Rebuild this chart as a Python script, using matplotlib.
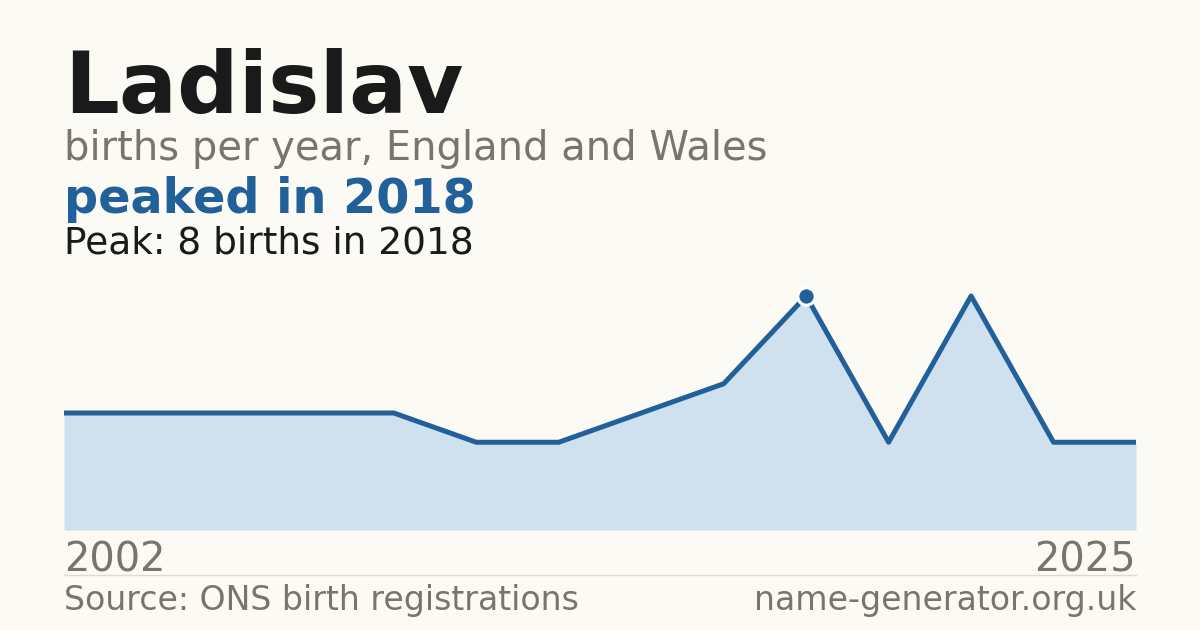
import matplotlib.pyplot as plt
from matplotlib.lines import Line2D
import numpy as np

plt.rcParams['font.family'] = ['DejaVu Sans']

# years with a published count (fewer than 3 births are suppressed)
years = [2002, 2003, 2004, 2005, 2006, 2009, 2011, 2013, 2016, 2018, 2020, 2021, 2023, 2025]
births = [4, 4, 4, 4, 4, 3, 3, 4, 5, 8, 3, 8, 3, 3]

name = "Ladislav"
subtitle = "births per year, England and Wales"
headline = "peaked in 2018"
peak_note = "Peak: 8 births in 2018"
source = "Source: ONS birth registrations"
site = "name-generator.org.uk"

bg = "#fbfaf5"
blue = "#22609a"
fill = "#cfe0ef"
grey = "#79756d"
dark = "#1a1a1a"

W, H = 1200, 630
fig = plt.figure(figsize=(W / 100, H / 100), dpi=100, facecolor=bg)

def fx(px):
    return px / W

def fy(py):
    return 1 - py / H

# plot area: 64..1136 px across, bottom at 530 px
ymax = 9
h_px = (530 - 296) * ymax / max(births)
ax = fig.add_axes([fx(64), fy(530), fx(1136) - fx(64), h_px / H])
ax.set_facecolor(bg)
x = np.arange(len(years))
ax.fill_between(x, births, 0, color=fill, linewidth=0)
ax.plot(x, births, color=blue, linewidth=3.6, solid_joinstyle="round")
ipk = int(np.argmax(births))
ax.plot(x[ipk], births[ipk], "o", color=blue, markersize=12.5,
        markeredgecolor="white", markeredgewidth=2.2, zorder=5)
ax.set_xlim(x[0], x[-1])
ax.set_ylim(0, ymax)
ax.axis("off")

fig.text(fx(64), fy(113), name, fontsize=62, fontweight="bold", color=dark, va="baseline")
fig.text(fx(64), fy(160), subtitle, fontsize=28.8, color=grey, va="baseline")
fig.text(fx(64), fy(213), headline, fontsize=34.4, fontweight="bold", color=blue, va="baseline")
fig.text(fx(64), fy(254), peak_note, fontsize=27, color=dark, va="baseline")

fig.text(fx(64), fy(571), str(years[0]), fontsize=28.8, color=grey, va="baseline")
fig.text(fx(1136), fy(571), str(years[-1]), fontsize=28.8, color=grey, va="baseline", ha="right")

fig.add_artist(Line2D([fx(64), fx(1136)], [fy(574.5), fy(574.5)], color="#dedbd4", linewidth=1))

fig.text(fx(64), fy(610), source, fontsize=23.9, color=grey, va="baseline")
fig.text(fx(1136), fy(610), site, fontsize=23.9, color=grey, va="baseline", ha="right")

fig.savefig("out.png", dpi=100, facecolor=bg)
